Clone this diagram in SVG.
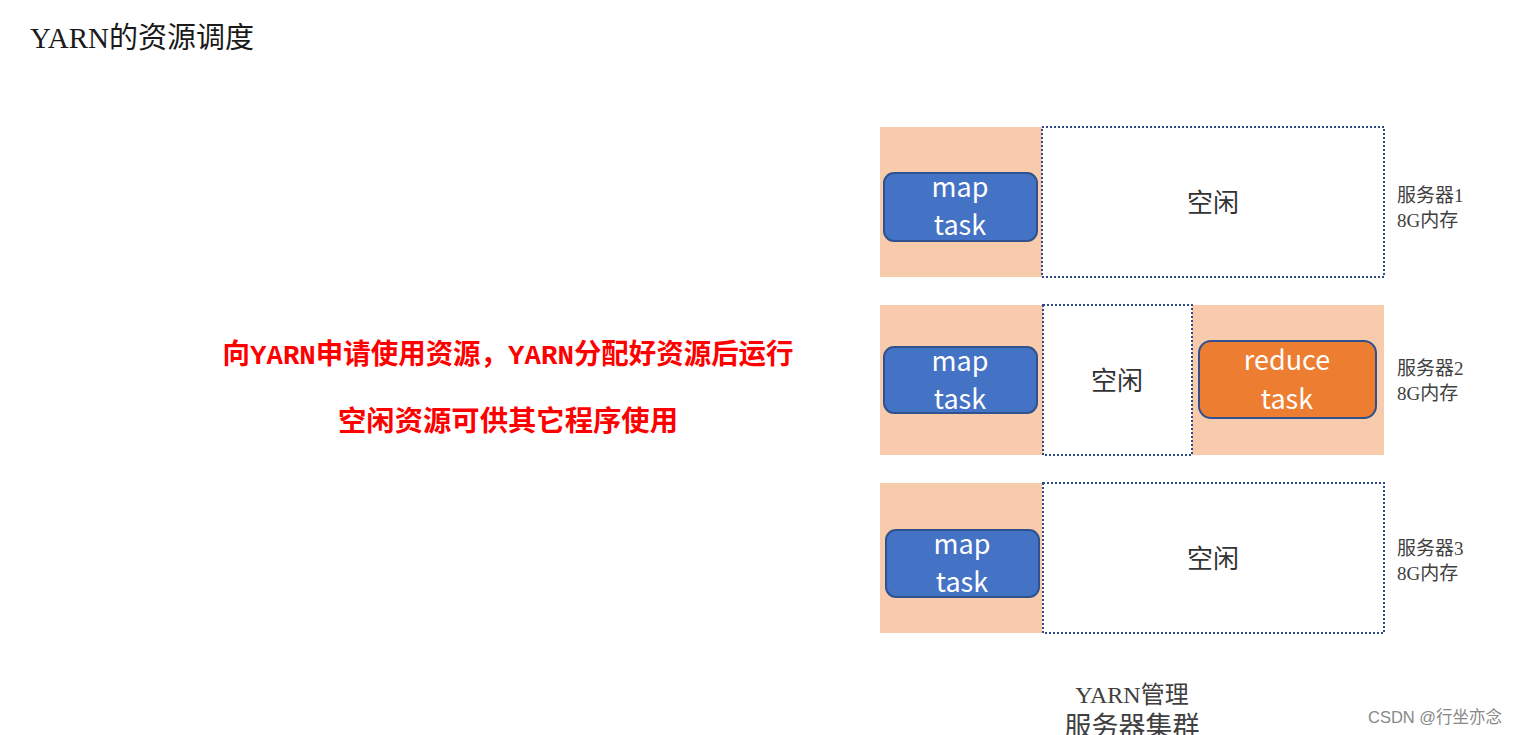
<svg xmlns="http://www.w3.org/2000/svg" width="1520" height="735" viewBox="0 0 1520 735">
<style>
.peach{fill:#F8CBAD;}
.idle{fill:#FFFFFF;stroke:#2F4A87;stroke-width:2;stroke-dasharray:2 2;}
.map{fill:#4472C4;stroke:#2F528F;stroke-width:2;}
.red{fill:#ED7D31;stroke:#2F528F;stroke-width:2;}
.tt{font-family:"Noto Sans CJK SC","Open Sans",sans-serif;font-size:27px;fill:#FFFFFF;text-anchor:middle;}
.idt{font-family:"Noto Sans CJK SC",sans-serif;font-size:26px;fill:#333333;text-anchor:middle;}
.srv{font-family:"Liberation Serif","Noto Sans CJK SC",serif;font-size:19px;fill:#404040;}
.note{font-family:"Liberation Sans","Noto Sans CJK SC",sans-serif;font-size:28px;font-weight:bold;fill:#FF0000;text-anchor:middle;}
.lat{font-family:"Liberation Mono",monospace;}
</style>
<rect width="1520" height="735" fill="#FFFFFF"/>
<text x="30" y="48" font-family="Liberation Serif,'Noto Sans CJK SC',serif" font-size="29" fill="#1a1a1a">YARN的资源调度</text>
<g id="note">
<text class="note" x="508" y="364" textLength="571" lengthAdjust="spacingAndGlyphs">向<tspan class="lat">YARN</tspan>申请使用资源，<tspan class="lat">YARN</tspan>分配好资源后运行</text>
<text class="note" x="508" y="431" textLength="340" lengthAdjust="spacingAndGlyphs">空闲资源可供其它程序使用</text>
</g>
<g id="server1">
<rect class="peach" x="880" y="127" width="162" height="150"/>
<rect class="idle" x="1042" y="127" width="342" height="150"/>
<text class="idt" x="1213" y="212">空闲</text>
<rect class="map" x="884" y="173" width="153" height="68" rx="10"/>
<text class="tt" x="960" y="197">map</text>
<text class="tt" x="960" y="235">task</text>
<text class="srv" x="1397" y="202">服务器1</text>
<text class="srv" x="1397" y="227">8G内存</text>
</g>
<g id="server2">
<rect class="peach" x="880" y="305" width="504" height="150"/>
<rect class="idle" x="1043" y="305" width="149" height="150"/>
<text class="idt" x="1117" y="390">空闲</text>
<rect class="map" x="884" y="347" width="153" height="66" rx="10"/>
<text class="tt" x="960" y="371">map</text>
<text class="tt" x="960" y="409">task</text>
<rect class="red" x="1199" y="341" width="177" height="77" rx="12"/>
<text class="tt" x="1287" y="370">reduce</text>
<text class="tt" x="1287" y="409">task</text>
<text class="srv" x="1397" y="375">服务器2</text>
<text class="srv" x="1397" y="400">8G内存</text>
</g>
<g id="server3">
<rect class="peach" x="880" y="483" width="162" height="150"/>
<rect class="idle" x="1043" y="483" width="341" height="150"/>
<text class="idt" x="1213" y="568">空闲</text>
<rect class="map" x="886" y="530" width="153" height="67" rx="10"/>
<text class="tt" x="962" y="554">map</text>
<text class="tt" x="962" y="592">task</text>
<text class="srv" x="1397" y="555">服务器3</text>
<text class="srv" x="1397" y="580">8G内存</text>
</g>
<g id="cluster">
<text x="1132" y="703" font-family="Liberation Serif,'Noto Sans CJK SC',serif" font-size="24" fill="#404040" text-anchor="middle">YARN管理</text>
<text x="1132" y="736" font-family="Liberation Serif,'Noto Sans CJK SC',serif" font-size="27" fill="#404040" text-anchor="middle">服务器集群</text>
</g>
<g id="connectors"></g>
<text x="1368" y="723" font-family="'Liberation Sans','Noto Sans CJK SC',sans-serif" font-size="16.5" fill="#888888">CSDN @行坐亦念</text>
</svg>
